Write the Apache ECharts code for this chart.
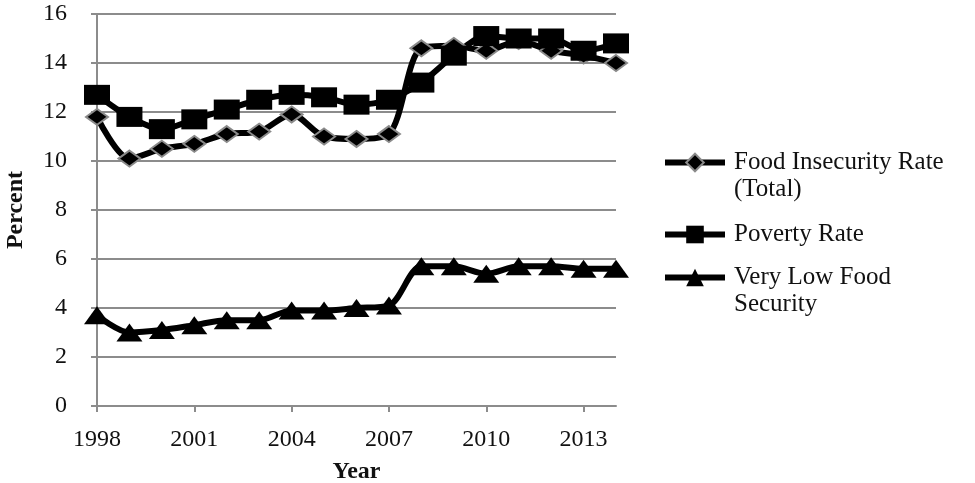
<!DOCTYPE html>
<html><head><meta charset="utf-8">
<script src="https://cdn.jsdelivr.net/npm/echarts@6/dist/echarts.min.js"></script>
<style>html,body{margin:0;padding:0;background:#fff}#c{width:975px;height:483px}</style>
</head><body><div id="c"></div>
<script>
var years = ['1998','1999','2000','2001','2002','2003','2004','2005','2006','2007','2008','2009','2010','2011','2012','2013','2014'];
var foodInsecurity = [11.8,10.1,10.5,10.7,11.1,11.2,11.9,11.0,10.9,11.1,14.6,14.7,14.5,14.9,14.5,14.3,14.0];
var poverty = [12.7,11.8,11.3,11.7,12.1,12.5,12.7,12.6,12.3,12.5,13.2,14.3,15.1,15.0,15.0,14.5,14.8];
var veryLow = [3.7,3.0,3.1,3.3,3.5,3.5,3.9,3.9,4.0,4.1,5.7,5.7,5.4,5.7,5.7,5.6,5.6];
var names = ['Food Insecurity Rate\n(Total)','Poverty Rate','Very Low Food\nSecurity'];

var font = 'Liberation Serif';
var chart = echarts.init(document.getElementById('c'));
var gray = '#8c8c8c';
function leg(name, top, twoLine) {
  return {
    orient:'vertical', left:662, top:top, padding:0, itemWidth:60, itemHeight:22,
    lineStyle:{width:6,color:'#000'},
    textStyle:{fontFamily:font,fontSize:25,color:'#111',lineHeight:27,padding:[0,0,0,4]},
    formatter: function (n) { return twoLine ? '\n' + n : n; },
    data:[name]
  };
}
chart.setOption({
  animation:false,
  textStyle:{fontFamily:font},
  grid:{left:97,right:359,top:14,bottom:77,containLabel:false,outerBoundsMode:'none'},
  legend:[ leg(names[0],122,true), leg(names[1],221,false), leg(names[2],237,true) ],
  xAxis:{
    type:'category', data:years, boundaryGap:false,
    name:'Year', nameLocation:'middle', nameGap:54,
    nameTextStyle:{fontFamily:font,fontSize:24,fontWeight:'bold',color:'#111'},
    axisLine:{lineStyle:{color:gray,width:2}},
    axisTick:{interval:2,length:6,lineStyle:{color:gray,width:2}},
    axisLabel:{interval:2,fontFamily:font,fontSize:24,color:'#111',margin:22},
    splitLine:{show:false}
  },
  yAxis:{
    type:'value', min:0, max:16, interval:2,
    name:'Percent', nameLocation:'middle', nameGap:69, nameRotate:90,
    nameTextStyle:{fontFamily:font,fontSize:24,fontWeight:'bold',color:'#111'},
    axisLine:{show:true,lineStyle:{color:gray,width:2}},
    axisTick:{show:true,length:6,lineStyle:{color:gray,width:2}},
    axisLabel:{fontFamily:font,fontSize:24,color:'#111',margin:30},
    splitLine:{lineStyle:{color:gray,width:2}}
  },
  series:[
    {name:names[0],type:'line',data:foodInsecurity,smooth:0.3,symbol:'diamond',symbolSize:[22,16],
     lineStyle:{color:'#000',width:6},itemStyle:{color:'#000',borderColor:'#8a8a8a',borderWidth:2}},
    {name:names[1],type:'line',data:poverty,smooth:0.3,symbol:'rect',symbolSize:[26,20],
     lineStyle:{color:'#000',width:6},itemStyle:{color:'#000'}},
    {name:names[2],type:'line',data:veryLow,smooth:0.3,symbol:'triangle',symbolSize:[26,18],
     lineStyle:{color:'#000',width:6},itemStyle:{color:'#000'}}
  ]
});
</script></body></html>
